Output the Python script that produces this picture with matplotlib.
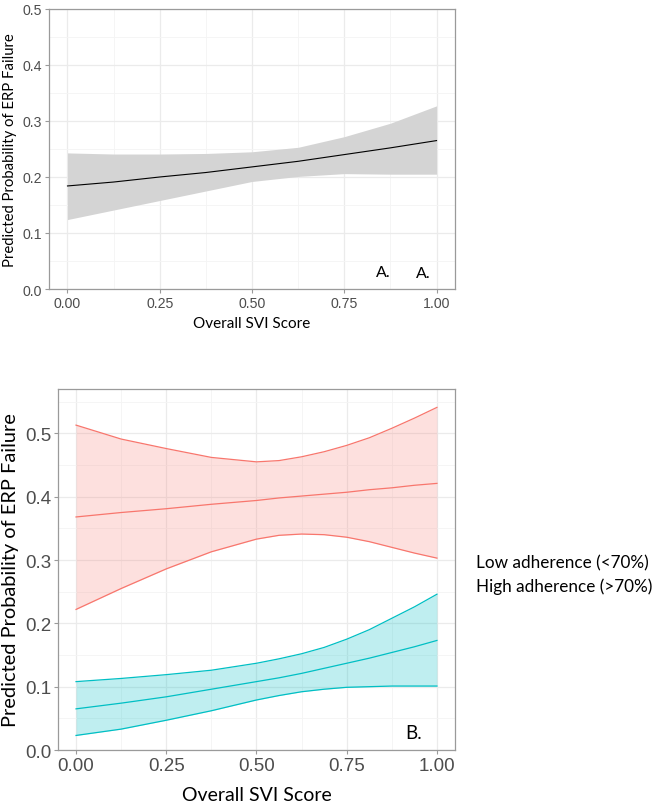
import numpy as np
import matplotlib.pyplot as plt

# panel A: overall model
svi_a = [0.0, 0.125, 0.25, 0.375, 0.5, 0.625, 0.75, 0.875, 1.0]
fit_a = [0.184, 0.191, 0.200, 0.208, 0.218, 0.228, 0.240, 0.252, 0.265]
upr_a = [0.243, 0.241, 0.241, 0.242, 0.245, 0.253, 0.272, 0.296, 0.327]
lwr_a = [0.124, 0.141, 0.158, 0.175, 0.192, 0.201, 0.206, 0.205, 0.205]

# panel B: by adherence group
svi_b = [0.0, 0.125, 0.25, 0.375, 0.5, 0.5625, 0.625, 0.6875, 0.75, 0.8125, 0.875, 0.9375, 1.0]
low_fit = [0.368, 0.375, 0.381, 0.388, 0.394, 0.398, 0.401, 0.404, 0.407, 0.411, 0.414, 0.418, 0.421]
low_upr = [0.513, 0.491, 0.476, 0.462, 0.455, 0.457, 0.463, 0.471, 0.481, 0.493, 0.508, 0.524, 0.541]
low_lwr = [0.222, 0.255, 0.286, 0.313, 0.333, 0.339, 0.341, 0.340, 0.336, 0.329, 0.320, 0.311, 0.303]
high_fit = [0.065, 0.074, 0.084, 0.096, 0.108, 0.114, 0.121, 0.129, 0.137, 0.145, 0.154, 0.163, 0.173]
high_upr = [0.108, 0.113, 0.119, 0.126, 0.137, 0.144, 0.152, 0.162, 0.175, 0.190, 0.208, 0.226, 0.246]
high_lwr = [0.023, 0.033, 0.047, 0.062, 0.079, 0.086, 0.092, 0.096, 0.099, 0.100, 0.101, 0.101, 0.101]

groups = ["Low adherence (<70%)", "High adherence (>70%)"]
xticks = [0.0, 0.25, 0.5, 0.75, 1.0]

RED = "#F8766D"
CYAN = "#00BFC4"
LABEL_FONT = "Lato"
TICK_FONT = "Liberation Sans"


def style_axes(ax, ymax, ystep, tick_size):
    ax.set_xlim(-0.05, 1.05)
    ax.set_ylim(0, ymax)
    ax.set_xticks(xticks)
    ax.set_xticklabels([f"{t:.2f}" for t in xticks])
    ax.set_xticks(np.arange(0.125, 1.0, 0.25), minor=True)
    ax.set_yticks(np.arange(0, ymax + 1e-9, ystep))
    ax.set_yticks(np.arange(ystep / 2, ymax, ystep), minor=True)
    ax.grid(which="major", color="#EBEBEB", lw=0.9)
    ax.grid(which="minor", color="#F4F4F4", lw=0.6)
    ax.set_axisbelow(True)
    for s in ax.spines.values():
        s.set_color("#9A9A9A")
        s.set_linewidth(0.9)
    ax.tick_params(which="major", length=3, color="#9A9A9A", labelcolor="#4D4D4D",
                   labelsize=tick_size, pad=2)
    ax.tick_params(which="minor", length=0)
    for lab in ax.get_xticklabels() + ax.get_yticklabels():
        lab.set_family(TICK_FONT)


fig = plt.figure(figsize=(6.59, 8.04), dpi=100)

# ---- panel A
ax1 = fig.add_axes([0.0744, 0.6393, 0.616, 0.3483])
ax1.fill_between(svi_a, lwr_a, upr_a, color="#D4D4D4", lw=0)
ax1.plot(svi_a, fit_a, color="black", lw=0.8)
style_axes(ax1, 0.5, 0.1, 10.2)
ax1.set_xlabel("Overall SVI Score", family=LABEL_FONT, fontsize=11, labelpad=4)
ax1.set_ylabel("Predicted Probability of ERP Failure", family=LABEL_FONT, fontsize=10.7,
               labelpad=4)
ax1.text(0.856, 0.03, "A.", family=LABEL_FONT, fontsize=11.5, va="center", ha="center")
ax1.text(0.965, 0.028, "A.", family=LABEL_FONT, fontsize=11.5, va="center", ha="center")

# ---- panel B
ax2 = fig.add_axes([0.088, 0.0659, 0.6024, 0.449])
ax2.fill_between(svi_b, low_lwr, low_upr, color=RED, alpha=0.22, lw=0)
ax2.fill_between(svi_b, high_lwr, high_upr, color=CYAN, alpha=0.25, lw=0)
for ys in (low_fit, low_upr, low_lwr):
    ax2.plot(svi_b, ys, color=RED, lw=0.9)
for ys in (high_fit, high_upr, high_lwr):
    ax2.plot(svi_b, ys, color=CYAN, lw=0.9)
style_axes(ax2, 0.57, 0.1, 13.5)
ax2.set_yticks(np.arange(0.05, 0.57, 0.1), minor=True)
ax2.set_yticks(np.arange(0, 0.51, 0.1))
for lab in ax2.get_yticklabels():
    lab.set_family(TICK_FONT)
ax2.set_xlabel("Overall SVI Score", family=LABEL_FONT, fontsize=14, labelpad=9)
ax2.set_ylabel("Predicted Probability of ERP Failure", family=LABEL_FONT, fontsize=14.4,
               labelpad=4)
ax2.text(0.936, 0.028, "B.", family=LABEL_FONT, fontsize=13.5, va="center", ha="center")

# legend labels (text only, as in the original)
fig.text(476 / 659, 1 - 563 / 804, groups[0], family=LABEL_FONT, fontsize=12.3, va="center")
fig.text(476 / 659, 1 - 587 / 804, groups[1], family=LABEL_FONT, fontsize=12.3, va="center")

fig.savefig("out.png", dpi=100)
